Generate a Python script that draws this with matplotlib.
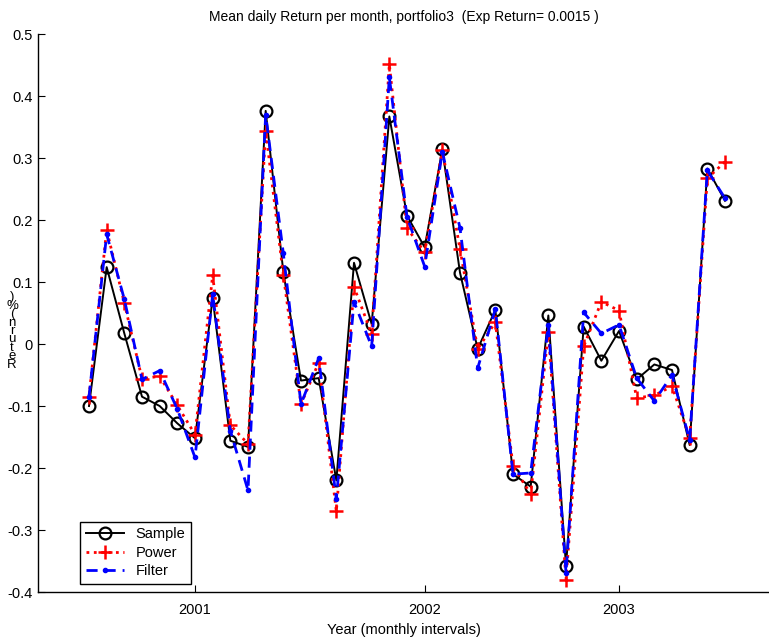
import matplotlib
matplotlib.use("Agg")
import matplotlib.pyplot as plt
import numpy as np

plt.rcParams['font.family'] = ['Liberation Sans', 'DejaVu Sans']

# Mean daily return per month (%), one value per month
sample = [-0.100, 0.124, 0.017, -0.085, -0.100, -0.128, -0.152, 0.074, -0.156, -0.166,
          0.376, 0.116, -0.059, -0.055, -0.220, 0.131, 0.032, 0.367, 0.207, 0.156,
          0.314, 0.115, -0.008, 0.055, -0.210, -0.230, 0.046, -0.358, 0.028, -0.027,
          0.021, -0.057, -0.033, -0.042, -0.163, 0.283, 0.231]
power = [-0.085, 0.184, 0.066, -0.056, -0.052, -0.099, -0.146, 0.111, -0.131, -0.161,
         0.344, 0.111, -0.097, -0.030, -0.270, 0.092, 0.016, 0.451, 0.187, 0.148,
         0.313, 0.153, -0.008, 0.035, -0.197, -0.242, 0.019, -0.380, -0.004, 0.068,
         0.054, -0.087, -0.083, -0.068, -0.152, 0.267, 0.294]
filt = [-0.085, 0.177, 0.072, -0.057, -0.043, -0.105, -0.183, 0.080, -0.140, -0.236,
        0.370, 0.146, -0.097, -0.023, -0.250, 0.068, -0.004, 0.430, 0.205, 0.125,
        0.310, 0.187, -0.039, 0.056, -0.210, -0.208, 0.030, -0.369, 0.051, 0.017,
        0.031, -0.055, -0.092, -0.050, -0.155, 0.280, 0.235]

year_ticks = [6, 19, 30]
year_labels = ['2001', '2002', '2003']
y_ticks = [-0.4, -0.3, -0.2, -0.1, 0.0, 0.1, 0.2, 0.3, 0.4, 0.5]
y_labels = ['-0.4', '-0.3', '-0.2', '-0.1', '0', '0.1', '0.2', '0.3', '0.4', '0.5']

W, H = 769, 640
fig = plt.figure(figsize=(W / 100, H / 100), dpi=100)
ax = fig.add_axes([38 / W, (H - 592) / H, (W - 38) / W, (592 - 34) / H])

months = np.arange(len(sample))
ax.plot(months, sample, color='black', lw=1.4, ls='-', marker='o', ms=8.5,
        mfc='none', mec='black', mew=1.6, label='Sample', zorder=3)
ax.plot(months, power, color='#ff0000', lw=2.0, ls=':', marker='+', ms=10,
        mew=1.8, label='Power', zorder=4)
ax.plot(months, filt, color='#0000ff', lw=2.0, ls=(0, (4, 2.5)), marker='.', ms=6,
        label='Filter', zorder=5)

ax.set_xlim(-2.887, 38.49)
ax.set_ylim(-0.4, 0.5)
ax.set_xticks(year_ticks)
ax.set_xticklabels(year_labels)
ax.set_yticks(y_ticks)
ax.set_yticklabels(y_labels)
ax.tick_params(direction='in', length=5, width=0.8, labelsize=10.5, top=False, right=False)
ax.tick_params(axis='x', pad=8)
ax.tick_params(axis='y', pad=4)
for s in ('top', 'right'):
    ax.spines[s].set_visible(False)
for s in ('left', 'bottom'):
    ax.spines[s].set_linewidth(1.0)

ax.set_title('Mean daily Return per month, portfolio3  (Exp Return= 0.0015 )',
             fontsize=10, pad=9)
ax.set_xlabel('Year (monthly intervals)', fontsize=10.5, labelpad=4)

# stacked y-axis caption, one character per line
caption = '\n'.join(reversed('Return(%)'))
fig.text(12 / W, 1 - 331 / H, caption, fontsize=9.5, ha='center', va='center',
         multialignment='center', linespacing=0.6)

leg = ax.legend(loc='lower left', bbox_to_anchor=((80 - 38) / 731, (592 - 584) / 558),
                borderaxespad=0, fancybox=False, edgecolor='black', framealpha=1,
                fontsize=10.5, handlelength=2.6, handletextpad=0.8, borderpad=0.4,
                labelspacing=0.3)
leg.get_frame().set_linewidth(1.0)

fig.savefig('out.png', dpi=100)
